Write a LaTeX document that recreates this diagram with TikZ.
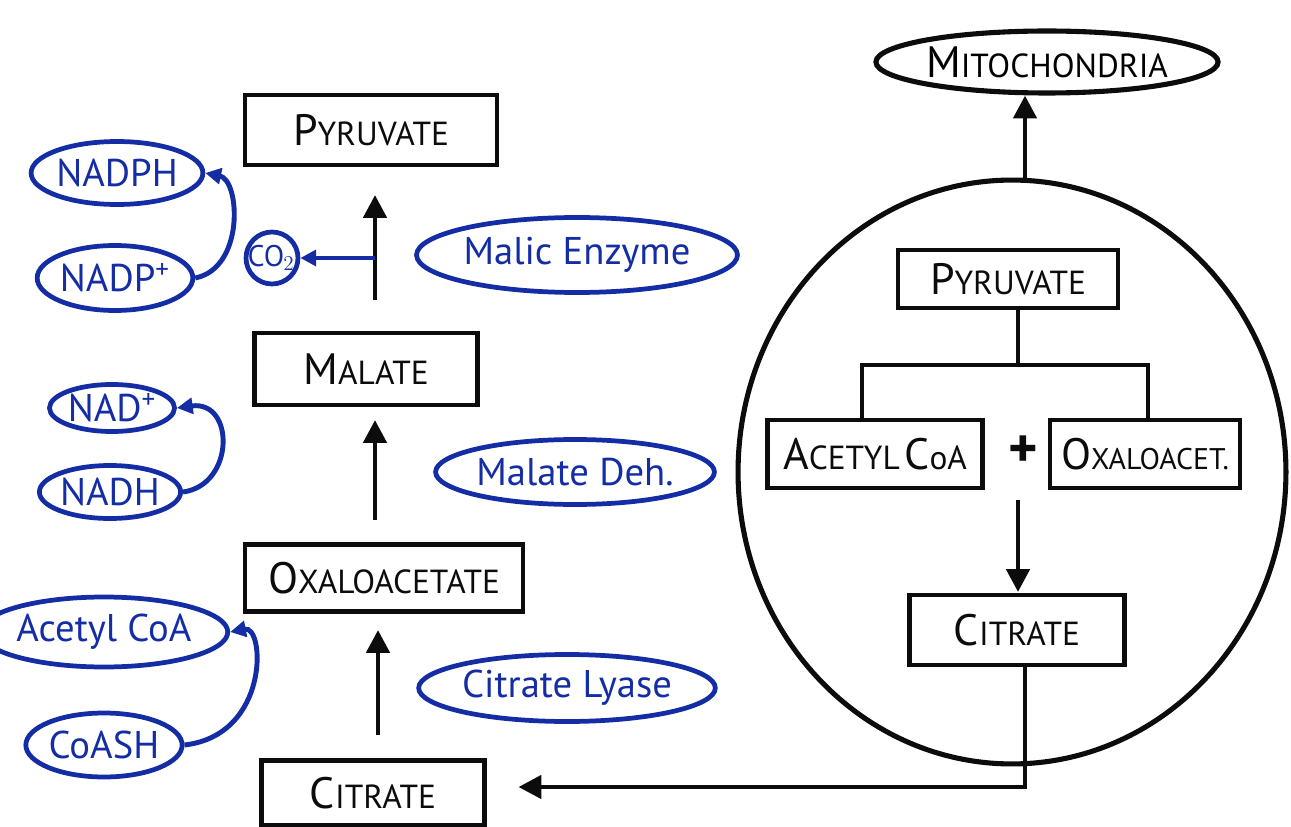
\documentclass[tikz,border=0pt]{standalone}
\usepackage{fontspec}
\setmainfont{PT Sans}
\usetikzlibrary{arrows.meta,shapes.geometric}
\definecolor{ink}{RGB}{12,12,12}
\definecolor{pen}{RGB}{20,45,165}
% hand-lettered small caps: large initial, smaller remainder
\newcommand{\Cap}[1]{{\fontsize{25}{25}\selectfont #1}}
\newcommand{\Low}[1]{{\fontsize{19}{19}\selectfont #1}}
\begin{document}
\begin{tikzpicture}[x=0.02cm,y=-0.02cm,
  box/.style={draw=ink, line width=2.7pt, rectangle, inner sep=0pt, text=ink},
  tag/.style={draw=pen, ellipse, line width=2.7pt, inner sep=0pt, text=pen, font=\fontsize{22}{22}\selectfont},
  bigarrow/.style={draw=ink, line width=2.8pt, -{Triangle[length=13pt,width=13pt]}},
  loop/.style={draw=pen, line width=2.8pt, -{Triangle[length=9pt,width=9pt]}},
  wire/.style={draw=ink, line width=2.7pt}]
\useasboundingbox (0,0) rectangle (1291,827);

% ---- cytosol pathway ----
\node[box, minimum width=5.04cm, minimum height=1.4cm]  (pyr) at (371,130) {\Cap{P}\Low{YRUVATE}};
\node[box, minimum width=4.46cm, minimum height=1.44cm] (mal) at (366,369) {\Cap{M}\Low{ALATE}};
\node[box, minimum width=5.56cm, minimum height=1.34cm] (oaa) at (384,578) {\Cap{O}\Low{XALOACETATE}};
\node[box, minimum width=4.46cm, minimum height=1.3cm]  (cit) at (373,793) {\Cap{C}\Low{ITRATE}};

\coordinate (a1s) at (375,300); \coordinate (a1e) at (375,195);
\coordinate (a2s) at (375,520); \coordinate (a2e) at (375,420);
\coordinate (a3s) at (378,735); \coordinate (a3e) at (378,630);
\draw[bigarrow] (a1s) -- (a1e);
\draw[bigarrow] (a2s) -- (a2e);
\draw[bigarrow] (a3s) -- (a3e);

% carbon dioxide release
\node[draw=pen, circle, line width=2.7pt, minimum size=0.86cm, inner sep=0pt, text=pen,
      font=\fontsize{17}{17}\selectfont] (co2) at (272,258) {\kern-1pt CO\kern-0.5pt$_2$};
\coordinate (co2j) at (375,258);
\draw[loop] (co2j) -- (co2.east);

% enzymes
\node[tag, minimum width=5.8cm,  minimum height=1.5cm]  (me)  at (577,255) {Malic Enzyme};
\node[tag, minimum width=5.52cm, minimum height=1.3cm]  (mdh) at (575,472) {Malate Deh.};
\node[tag, minimum width=5.42cm, minimum height=1.34cm] (cl)  at (567,688) {Citrate Lyase};

% cofactors
\node[tag, minimum width=3.06cm, minimum height=1.26cm] (nadph) at (117,173) {NADPH};
\node[tag, minimum width=3.0cm,  minimum height=1.3cm]  (nadp)  at (115,278) {NADP\textsuperscript{+}};
\node[tag, minimum width=2.2cm,  minimum height=0.94cm] (nad)   at (112,408) {NAD\textsuperscript{+}};
\node[tag, minimum width=2.44cm, minimum height=1.06cm] (nadh)  at (110,492) {NADH};
\node[tag, minimum width=3.84cm, minimum height=1.4cm]  (acoa)  at (104,632) {Acetyl CoA};
\node[tag, minimum width=3.04cm, minimum height=1.28cm] (coash) at (104,745) {CoASH};

\draw[loop] (nadp.east) .. controls (245,268) and (240,180) .. (nadph.east);
\draw[loop] (nadh.east) .. controls (235,485) and (235,400) .. (nad.east);
\draw[loop] (coash.east) .. controls (270,735) and (265,625) .. (acoa.east);

% ---- mitochondrion ----
\node[draw=ink, line width=2.9pt, ellipse, minimum width=10.96cm, minimum height=11.68cm] (mito) at (1012,472) {};
\node[draw=ink, line width=2.9pt, ellipse, minimum width=6.0cm, minimum height=1.24cm, inner sep=0pt] (mlab) at (1047,62)
  {\Cap{M}\Low{ITOCHONDRIA}};
\coordinate (mtop) at (1025,181);
\draw[bigarrow] (mtop) -- (mlab.south -| mtop);

\node[box, minimum width=4.4cm, minimum height=1.16cm] (ipyr) at (1008,279) {\Cap{P}\Low{YRUVATE}};
\node[box, minimum width=4.3cm, minimum height=1.36cm] (iac)  at (875,454)  {\Cap{A}\Low{CETYL} \Cap{C}\Low{oA}};
\node[box, minimum width=3.8cm, minimum height=1.36cm] (ioaa) at (1145,454)
  {\Cap{O}{\fontsize{17}{17}\selectfont XALOACET.}};
\node[text=ink, font=\bfseries\fontsize{32}{32}\selectfont] (plus) at (1023,452) {+};
\node[box, minimum width=4.3cm, minimum height=1.4cm]  (icit) at (1017,630) {\Cap{C}\Low{ITRATE}};

% branching split of pyruvate
\coordinate (split) at (1018,365);
\draw[wire] (ipyr.south -| split) -- (split);
\draw[wire] (iac.north -| 862,0) |- (split) -| (ioaa.north -| 1148,0);
\coordinate (d1) at (1018,500); \coordinate (d2) at (1018,592);
\draw[bigarrow] (d1) -- (d2);

% citrate export to the cytosol
\coordinate (bend) at (1025,787);
\draw[bigarrow, shorten >=18pt] (icit.south -| bend) -- (bend) -- (bend -| cit.east);
\end{tikzpicture}
\end{document}
